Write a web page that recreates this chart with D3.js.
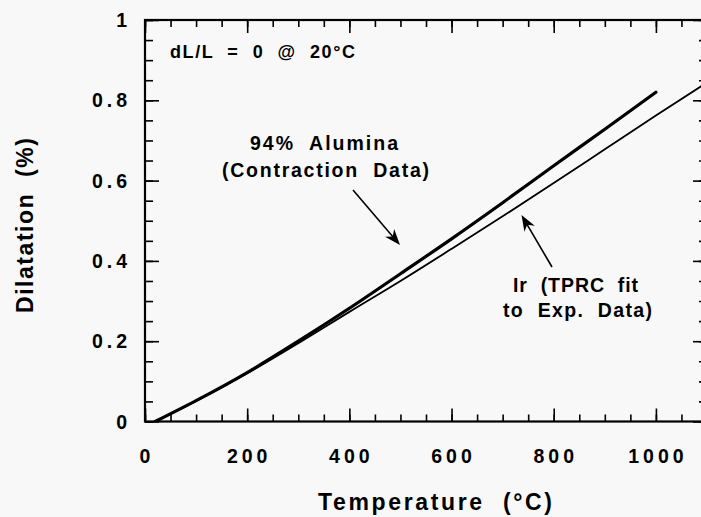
<!DOCTYPE html>
<html>
<head>
<meta charset="utf-8">
<script src="https://cdn.jsdelivr.net/npm/d3@7"></script>
<style>
  html, body { margin: 0; padding: 0; background: #f8f8f8; }
  svg { display: block; }
  text { font-family: "Liberation Sans", Arial, Helvetica, sans-serif; font-weight: bold; fill: #000; white-space: pre; }
</style>
</head>
<body>
<svg id="chart" width="701" height="517"></svg>
<script>
// ---- data ----
const aluminaTemp = [20, 100, 200, 300, 400, 500, 600, 700, 800, 900, 1000];
const aluminaDil  = [0, 0.052, 0.122, 0.2, 0.282, 0.368, 0.455, 0.545, 0.637, 0.728, 0.82];
const iridiumTemp = [20, 100, 200, 300, 400, 500, 600, 700, 800, 900, 1000, 1090];
const iridiumDil  = [0, 0.051, 0.12, 0.195, 0.273, 0.35, 0.43, 0.511, 0.594, 0.678, 0.762, 0.836];

const xMajorTicks = [0, 200, 400, 600, 800, 1000];
const xMinorTicks = d3.range(0, 1101, 50);
const yMajorTicks = [0, 0.2, 0.4, 0.6, 0.8, 1];
const yMinorTicks = d3.range(0, 1.0001, 0.05);
const xTickLabels = ["0", "200", "400", "600", "800", "1000"];
const yTickLabels = ["0", "0.2", "0.4", "0.6", "0.8", "1"];

const xTitle = "Temperature  (°C)";
const yTitle = "Dilatation  (%)";
const noteText = "dL/L  =  0  @  20°C";
const aluminaLabel = ["94%  Alumina", "(Contraction  Data)"];
const iridiumLabel = ["Ir  (TPRC  fit", "to  Exp.  Data)"];

// ---- layout ----
const svg = d3.select("#chart");
const L = 145, R = 707, T = 20, B = 421.5;
const x = d3.scaleLinear().domain([0, 1100]).range([L, R]);
const y = d3.scaleLinear().domain([0, 1]).range([B, T]);

svg.append("rect").attr("width", 701).attr("height", 517).attr("fill", "#f8f8f8");

// ticks (inward) via d3 axes
function ticks(gen, vals, size, tx, ty) {
  const g = svg.append("g").attr("transform", `translate(${tx},${ty})`)
    .call(gen.tickValues(vals).tickSize(size).tickFormat(""));
  g.select(".domain").remove();
  g.selectAll("line").attr("stroke", "#000").attr("stroke-width", 1.6);
}
ticks(d3.axisBottom(x), xMinorTicks, -7, 0, B);
ticks(d3.axisBottom(x), xMajorTicks, -13, 0, B);
ticks(d3.axisTop(x), xMinorTicks, -7, 0, T);
ticks(d3.axisTop(x), xMajorTicks, -13, 0, T);
ticks(d3.axisLeft(y), yMinorTicks, -8, L, 0);
ticks(d3.axisLeft(y), yMajorTicks, -14, L, 0);
ticks(d3.axisRight(y), yMinorTicks, -8, R, 0);
ticks(d3.axisRight(y), yMajorTicks, -14, R, 0);

// frame
svg.append("rect").attr("x", L).attr("y", T).attr("width", R - L).attr("height", B - T)
  .attr("fill", "none").attr("stroke", "#000").attr("stroke-width", 2.2);

// tick labels
svg.selectAll(".xl").data(xMajorTicks).enter().append("text")
  .attr("x", d => x(d) + 2).attr("y", 463)
  .attr("text-anchor", "middle").attr("font-size", 19.5).attr("letter-spacing", 4)
  .text((d, i) => xTickLabels[i]);
svg.selectAll(".yl").data(yMajorTicks).enter().append("text")
  .attr("x", 131).attr("y", d => y(d)).attr("dy", "0.36em")
  .attr("text-anchor", "end").attr("font-size", 19.5).attr("letter-spacing", 4)
  .text((d, i) => yTickLabels[i]);

// axis titles
svg.append("text").attr("x", 318).attr("y", 510).attr("font-size", 23)
  .attr("textLength", 234).attr("lengthAdjust", "spacing").text(xTitle);
svg.append("text").attr("transform", "translate(33,313) rotate(-90)")
  .attr("font-size", 23).attr("textLength", 175).attr("lengthAdjust", "spacing").text(yTitle);

// curves
const line = d3.line().x(d => x(d[0])).y(d => y(d[1])).curve(d3.curveMonotoneX);
const plot = svg.append("g");
svg.append("clipPath").attr("id", "clip").append("rect")
  .attr("x", L).attr("y", T).attr("width", R - L).attr("height", B - T);
plot.attr("clip-path", "url(#clip)");
plot.append("path").datum(d3.zip(iridiumTemp, iridiumDil)).attr("d", line)
  .attr("fill", "none").attr("stroke", "#000").attr("stroke-width", 1.8);
plot.append("path").datum(d3.zip(aluminaTemp, aluminaDil)).attr("d", line)
  .attr("fill", "none").attr("stroke", "#000").attr("stroke-width", 3.2).attr("stroke-linecap", "round");

// annotations
svg.append("text").attr("x", 170).attr("y", 58).attr("font-size", 18)
  .attr("textLength", 185).attr("lengthAdjust", "spacing").text(noteText);
svg.append("text").attr("x", 250).attr("y", 150).attr("font-size", 19.5)
  .attr("textLength", 148).attr("lengthAdjust", "spacing").text(aluminaLabel[0]);
svg.append("text").attr("x", 222).attr("y", 176.5).attr("font-size", 19.5)
  .attr("textLength", 207).attr("lengthAdjust", "spacing").text(aluminaLabel[1]);
svg.append("text").attr("x", 513).attr("y", 291.5).attr("font-size", 19.5)
  .attr("textLength", 125).attr("lengthAdjust", "spacing").text(iridiumLabel[0]);
svg.append("text").attr("x", 503).attr("y", 317).attr("font-size", 19.5)
  .attr("textLength", 149).attr("lengthAdjust", "spacing").text(iridiumLabel[1]);

// arrows
function arrow(x1, y1, x2, y2) {
  const ang = Math.atan2(y2 - y1, x2 - x1);
  const len = 16, w = 6;
  const bx = x2 - len * Math.cos(ang), by = y2 - len * Math.sin(ang);
  const nx = -Math.sin(ang), ny = Math.cos(ang);
  const nb = 0.7;
  svg.append("line").attr("x1", x1).attr("y1", y1)
    .attr("x2", x2 - 8 * Math.cos(ang)).attr("y2", y2 - 8 * Math.sin(ang))
    .attr("stroke", "#000").attr("stroke-width", 1.6);
  const notchX = x2 - len * nb * Math.cos(ang), notchY = y2 - len * nb * Math.sin(ang);
  svg.append("path")
    .attr("d", `M${x2},${y2} L${bx + w * nx},${by + w * ny} L${notchX},${notchY} L${bx - w * nx},${by - w * ny} Z`)
    .attr("fill", "#000");
}
arrow(353, 190, 400, 245);
arrow(552, 267, 521.5, 215);
</script>
</body>
</html>
